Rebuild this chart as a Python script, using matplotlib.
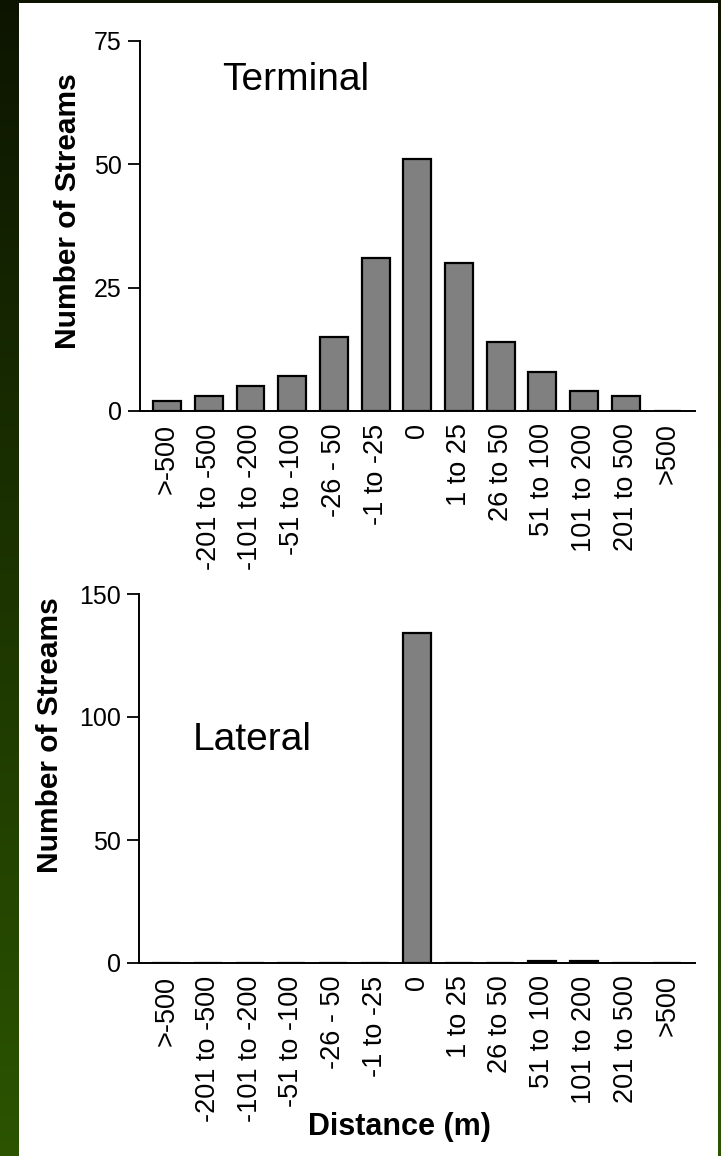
import matplotlib
matplotlib.use("Agg")
import matplotlib.pyplot as plt
import numpy as np
from matplotlib.patches import Rectangle

plt.rcParams['font.family'] = ['Liberation Sans', 'DejaVu Sans']

# distance bins shared by both panels
categories = ['>-500', '-201 to -500', '-101 to -200', '-51 to -100', '-26 - 50',
              '-1 to -25', '0', '1 to 25', '26 to 50', '51 to 100',
              '101 to 200', '201 to 500', '>500']
terminal_counts = [2, 3, 5, 7, 15, 31, 51, 30, 14, 8, 4, 3, 0]
lateral_counts = [0, 0, 0, 0, 0, 0, 134, 0, 0, 1, 1, 0, 0]

W, H = 721, 1156
fig = plt.figure(figsize=(W / 100, H / 100), dpi=100)

# dark green backdrop with white panel
bg = fig.add_axes([0, 0, 1, 1], zorder=-10)
top_c = np.array([0.05, 0.08, 0.0])
bot_c = np.array([0.17, 0.33, 0.0])
t = np.linspace(0, 1, 256)[:, None, None]
grad = top_c * (1 - t) + bot_c * t
bg.imshow(np.repeat(grad, 2, axis=1), aspect='auto', extent=[0, W, H, 0])
bg.add_patch(Rectangle((19, 3), 699, H - 3, facecolor='white', edgecolor='none'))
bg.set_xlim(0, W)
bg.set_ylim(H, 0)
bg.axis('off')


def px_axes(x0, x1, y_top, y_bot):
    return fig.add_axes([x0 / W, 1 - y_bot / H, (x1 - x0) / W, (y_bot - y_top) / H])


def draw_panel(ax, counts, ymax, yticks):
    x = np.arange(len(categories))
    ax.bar(x, counts, width=0.67, color='#808080', edgecolor='black', linewidth=1.6)
    ax.set_xlim(-0.65, len(categories) - 1 + 0.66)
    ax.set_ylim(0, ymax)
    ax.set_yticks(yticks)
    ax.set_xticks(x)
    ax.set_xticklabels(categories, rotation=90, fontsize=19.5)
    ax.tick_params(axis='x', length=0, pad=9)
    ax.tick_params(axis='y', length=9, width=1.3, labelsize=18, pad=4)
    for s in ('top', 'right'):
        ax.spines[s].set_visible(False)
    for s in ('left', 'bottom'):
        ax.spines[s].set_linewidth(1.4)
    ax.patch.set_alpha(0)


ax1 = px_axes(140, 695, 41, 411)
draw_panel(ax1, terminal_counts, 75, [0, 25, 50, 75])
ax1.text(0.281, 0.895, 'Terminal', transform=ax1.transAxes, fontsize=28,
         ha='center', va='center')

ax2 = px_axes(139, 695, 594, 963)
draw_panel(ax2, lateral_counts, 150, [0, 50, 100, 150])
ax2.text(0.203, 0.604, 'Lateral', transform=ax2.transAxes, fontsize=28,
         ha='center', va='center')

fig.text(68 / W, 1 - 211 / H, 'Number of Streams', rotation=90, fontsize=21.5,
         fontweight='bold', ha='center', va='center')
fig.text(50 / W, 1 - 735 / H, 'Number of Streams', rotation=90, fontsize=21.5,
         fontweight='bold', ha='center', va='center')
fig.text(399 / W, 1 - 1127 / H, 'Distance (m)', fontsize=22,
         fontweight='bold', ha='center', va='center')

fig.savefig('out.png', dpi=100)
